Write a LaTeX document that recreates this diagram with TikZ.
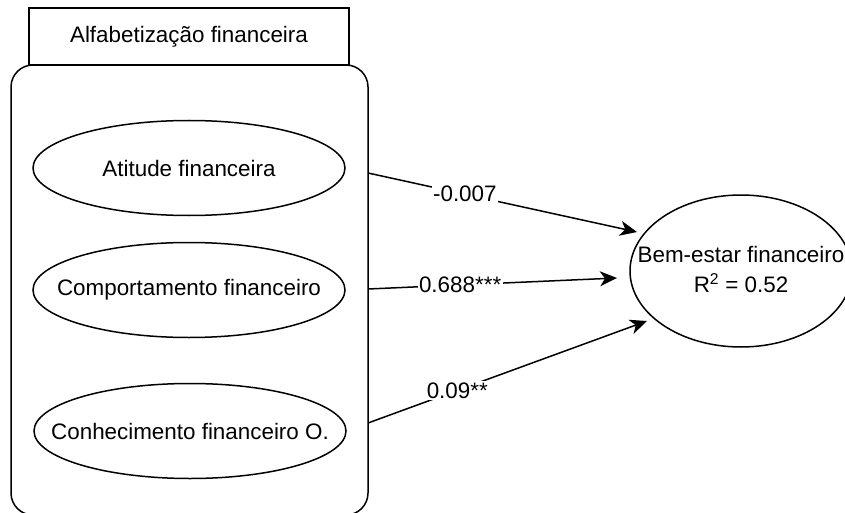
\documentclass[tikz,border=0pt]{standalone}
\usepackage{fontspec}
\setmainfont{Liberation Sans}
\usetikzlibrary{arrows.meta,shapes.geometric}

% zero-width box so that the ellipse size is set by its minimum dimensions only
\newcommand{\nodetxt}[1]{\makebox[0pt]{#1}}

\begin{document}
\begin{tikzpicture}[x=1pt,y=-1pt,
  lbl/.style={font=\fontsize{22.4}{30}\selectfont},
  construct/.style={draw, ellipse, line width=1.5pt, inner sep=0pt,
    minimum width=312pt, minimum height=95pt, lbl},
  groupbox/.style={draw, rectangle, rounded corners=22pt, line width=1.5pt,
    inner sep=0pt},
  titlebox/.style={draw, rectangle, fill=white, line width=1.5pt, inner sep=0pt,
    minimum width=320pt, minimum height=57pt, lbl},
  effect/.style={line width=1.5pt,
    -{Stealth[length=17pt,width=15pt,inset=5pt]}},
  coef/.style={fill=white, inner sep=1.5pt, lbl}]

\useasboundingbox (0,0) rectangle (845,513);

% latent-variable block
\node[groupbox, minimum width=357pt, minimum height=450pt] (group) at (189.5,290) {};
\node[titlebox] (title) at (189,36.5) {Alfabetização financeira};

\node[construct] (atitude) at (189,168) {\nodetxt{Atitude financeira}};
\node[construct] (comport) at (189,290) {\nodetxt{Comportamento financeiro}};
\node[construct] (conhec)  at (190,431) {\nodetxt{Conhecimento financeiro O.}};

% outcome
\node[draw, ellipse, line width=1.5pt, inner sep=0pt,
      minimum width=222pt, minimum height=152pt, lbl] (bem) at (741,271)
  {\nodetxt{\begin{tabular}{@{}c@{}}Bem-estar financeiro\\R\textsuperscript{2} = 0.52\end{tabular}}};

% path end points
\coordinate (s1) at (368,173);
\coordinate (s2) at (368,289);
\coordinate (s3) at (368,423);
\coordinate (e1) at (637,232);
\coordinate (e2) at (617,278);
\coordinate (e3) at (647,321);

\draw[effect] (s1) -- node[coef, pos=0.36] (c1) {-0.007} (e1);
\draw[effect] (s2) -- node[coef, pos=0.37] (c2) {0.688***} (e2);
\draw[effect] (s3) -- node[coef, pos=0.32] (c3) {0.09**} (e3);

\end{tikzpicture}
\end{document}
